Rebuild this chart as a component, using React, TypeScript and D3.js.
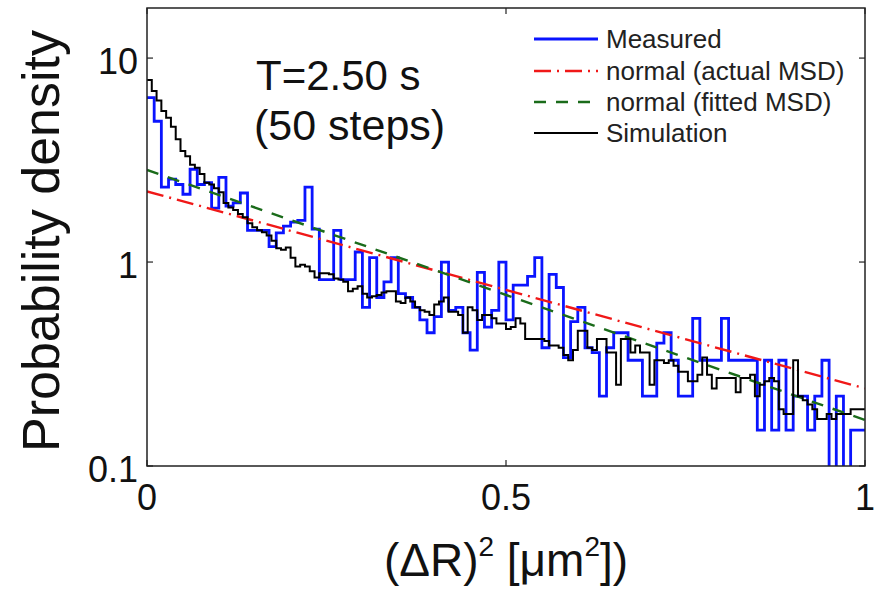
import React from 'react';
import * as d3 from 'd3';

const W = 881;
const H = 589;
const PLOT = { left: 147, right: 865, top: 8, bottom: 466 };
const FONT = '"Liberation Sans", Arial, sans-serif';

const X_TICKS = [0, 0.5, 1];
const X_TICK_LABELS = ['0', '0.5', '1'];
const Y_TICKS = [0.1, 1, 10];
const Y_TICK_LABELS = ['0.1', '1', '10'];
const Y_MIN = 0.1;
const Y_MAX = 17.6;

// Measured histogram: 100 bins over [0, 1]
const MEASURED = [
  6.4, 4.9, 2.33, 2.55, 2.4, 2.15, 2.85, 2.4, 2.45, 1.84,
  2.6, 1.88, 1.95, 2.18, 1.43, 1.43, 1.43, 1.19, 1.39, 1.5,
  1.57, 1.6, 2.33, 1.45, 0.82, 0.82, 1.43, 0.82, 0.82, 1.12,
  0.6, 1.05, 0.67, 0.8, 1.05, 0.7, 0.67, 0.6, 0.52, 0.45,
  0.54, 1.0, 0.58, 0.6, 0.45, 0.37, 0.89, 0.48, 0.58, 1.0,
  0.52, 0.77, 0.77, 0.85, 1.05, 0.38, 0.87, 0.75, 0.34, 0.51,
  0.6, 0.38, 0.36, 0.22, 0.38, 0.45, 0.45, 0.33, 0.33, 0.22,
  0.22, 0.4, 0.45, 0.33, 0.22, 0.22, 0.53, 0.33, 0.33, 0.33,
  0.53, 0.33, 0.33, 0.33, 0.33, 0.15, 0.33, 0.15, 0.33, 0.15,
  0.22, 0.22, 0.15, 0.22, 0.33, 0.05, 0.22, 0.05, 0.15, 0.15,
];

// Simulation histogram: 150 bins over [0, 1]
const SIMULATION = [
  7.8, 6.9, 6.2, 5.5, 5.1, 4.6, 4.0, 3.5, 3.3, 3.0,
  2.9, 2.7, 2.45, 2.4, 2.3, 2.2, 1.95, 1.85, 1.8, 1.72,
  1.66, 1.55, 1.48, 1.43, 1.4, 1.35, 1.27, 1.17, 1.15, 1.18,
  1.05, 0.95, 0.97, 0.95, 0.9, 0.84, 0.88, 0.88, 0.87, 0.83,
  0.82, 0.8, 0.72, 0.74, 0.76, 0.7, 0.67, 0.68, 0.69, 0.71,
  0.72, 0.72, 0.64, 0.63, 0.67, 0.64, 0.6, 0.58, 0.57, 0.55,
  0.62, 0.64, 0.67, 0.57, 0.57, 0.55, 0.45, 0.6, 0.58, 0.52,
  0.55, 0.55, 0.53, 0.5, 0.5, 0.47, 0.48, 0.53, 0.5, 0.42,
  0.42, 0.42, 0.42, 0.41, 0.39, 0.39, 0.38, 0.35, 0.33, 0.37,
  0.46, 0.46, 0.38, 0.37, 0.42, 0.42, 0.36, 0.36, 0.25, 0.42,
  0.42, 0.36, 0.39, 0.36, 0.36, 0.25, 0.33, 0.33, 0.32, 0.33,
  0.31, 0.29, 0.29, 0.26, 0.26, 0.28, 0.34, 0.28, 0.24, 0.27,
  0.27, 0.27, 0.27, 0.23, 0.27, 0.27, 0.28, 0.22, 0.25, 0.26,
  0.27, 0.26, 0.19, 0.18, 0.18, 0.33, 0.22, 0.21, 0.2, 0.19,
  0.17, 0.17, 0.18, 0.17, 0.18, 0.18, 0.18, 0.19, 0.19, 0.19,
];

// Normal distribution curves (straight lines on the log axis): [x, density]
const NORMAL_ACTUAL: [number, number][] = [[0, 2.22], [1, 0.24]];
const NORMAL_FITTED: [number, number][] = [[0, 2.83], [1, 0.168]];

const LEGEND_LABELS = ['Measured', 'normal (actual MSD)', 'normal (fitted MSD)', 'Simulation'];
const ANNOTATION = ['T=2.50 s', '(50 steps)'];

const STYLES = [
  { color: '#0a14ff', width: 2.8, dash: 'none' },
  { color: '#f01818', width: 2.4, dash: '17,6,2,6' },
  { color: '#1a6b1a', width: 2.4, dash: '12,10' },
  { color: '#000000', width: 2.0, dash: 'none' },
];

export default function App() {
  const x = d3.scaleLinear().domain([0, 1]).range([PLOT.left, PLOT.right]);
  const y = d3.scaleLog().domain([Y_MIN, Y_MAX]).range([PLOT.bottom, PLOT.top]);

  const stairs = (vals: number[]) => {
    const n = vals.length;
    const pts: [number, number][] = vals.map((v, i) => [i / n, v]);
    pts.push([1, vals[n - 1]]);
    return d3
      .line<[number, number]>()
      .x((d) => x(d[0]))
      .y((d) => y(d[1]))
      .curve(d3.curveStepAfter)(pts) as string;
  };
  const straight = d3
    .line<[number, number]>()
    .x((d) => x(d[0]))
    .y((d) => y(d[1]));

  const frameColor = '#222';
  const tickLen = 6;
  const legendX0 = 534;
  const legendX1 = 598;
  const legendY = [39, 71, 102, 133];

  return (
    <svg
      width={W}
      height={H}
      viewBox={`0 0 ${W} ${H}`}
      style={{ position: 'absolute', left: 0, top: 0, background: '#fff' }}
      fontFamily={FONT}
    >
      <defs>
        <clipPath id="plotClip">
          <rect x={PLOT.left} y={PLOT.top} width={PLOT.right - PLOT.left} height={PLOT.bottom - PLOT.top} />
        </clipPath>
      </defs>
      <rect x={0} y={0} width={W} height={H} fill="#fff" />

      <g clipPath="url(#plotClip)" fill="none" strokeLinejoin="miter">
        <path d={stairs(MEASURED)} stroke={STYLES[0].color} strokeWidth={STYLES[0].width} />
        <path d={straight(NORMAL_ACTUAL) as string} stroke={STYLES[1].color} strokeWidth={STYLES[1].width} strokeDasharray={STYLES[1].dash} />
        <path d={straight(NORMAL_FITTED) as string} stroke={STYLES[2].color} strokeWidth={STYLES[2].width} strokeDasharray={STYLES[2].dash} />
        <path d={stairs(SIMULATION)} stroke={STYLES[3].color} strokeWidth={STYLES[3].width} />
      </g>

      {/* frame */}
      <rect
        x={PLOT.left}
        y={PLOT.top}
        width={PLOT.right - PLOT.left}
        height={PLOT.bottom - PLOT.top}
        fill="none"
        stroke={frameColor}
        strokeWidth={1.5}
      />

      {/* ticks */}
      {Y_TICKS.map((t, i) => (
        <g key={'yt' + i}>
          <line x1={PLOT.left} x2={PLOT.left + tickLen} y1={y(t)} y2={y(t)} stroke={frameColor} strokeWidth={1.2} />
          <line x1={PLOT.right} x2={PLOT.right - tickLen} y1={y(t)} y2={y(t)} stroke={frameColor} strokeWidth={1.2} />
          <text x={PLOT.left - 9} y={y(t) + 3} textAnchor="end" dominantBaseline="central" fontSize={36} fill="#111">
            {Y_TICK_LABELS[i]}
          </text>
        </g>
      ))}
      {X_TICKS.map((t, i) => (
        <g key={'xt' + i}>
          <line x1={x(t)} x2={x(t)} y1={PLOT.bottom} y2={PLOT.bottom - tickLen} stroke={frameColor} strokeWidth={1.2} />
          <line x1={x(t)} x2={x(t)} y1={PLOT.top} y2={PLOT.top + tickLen} stroke={frameColor} strokeWidth={1.2} />
          <text x={x(t)} y={510} textAnchor="middle" fontSize={36} fill="#111">
            {X_TICK_LABELS[i]}
          </text>
        </g>
      ))}

      {/* axis labels */}
      <text
        transform={`translate(59, ${(PLOT.top + PLOT.bottom) / 2 + 4}) rotate(-90)`}
        textAnchor="middle"
        fontSize={52}
        fill="#111"
      >
        Probability density
      </text>
      <text x={x(0.5)} y={576} textAnchor="middle" fontSize={46} fill="#111">
        (ΔR)
        <tspan fontSize={28} dy={-20}>2</tspan>
        <tspan dy={20}> [μm</tspan>
        <tspan fontSize={28} dy={-20}>2</tspan>
        <tspan dy={20}>])</tspan>
      </text>

      {/* annotation */}
      <text x={256} y={90} fontSize={42} fill="#111">{ANNOTATION[0]}</text>
      <text x={254} y={140} fontSize={43} fill="#111">{ANNOTATION[1]}</text>

      {/* legend */}
      {LEGEND_LABELS.map((lab, i) => (
        <g key={'lg' + i}>
          <line
            x1={legendX0}
            x2={legendX1}
            y1={legendY[i]}
            y2={legendY[i]}
            stroke={STYLES[i].color}
            strokeWidth={STYLES[i].width}
            strokeDasharray={STYLES[i].dash}
          />
          <text x={606} y={legendY[i]} dominantBaseline="central" fontSize={26} fill="#222">
            {lab}
          </text>
        </g>
      ))}
    </svg>
  );
}
